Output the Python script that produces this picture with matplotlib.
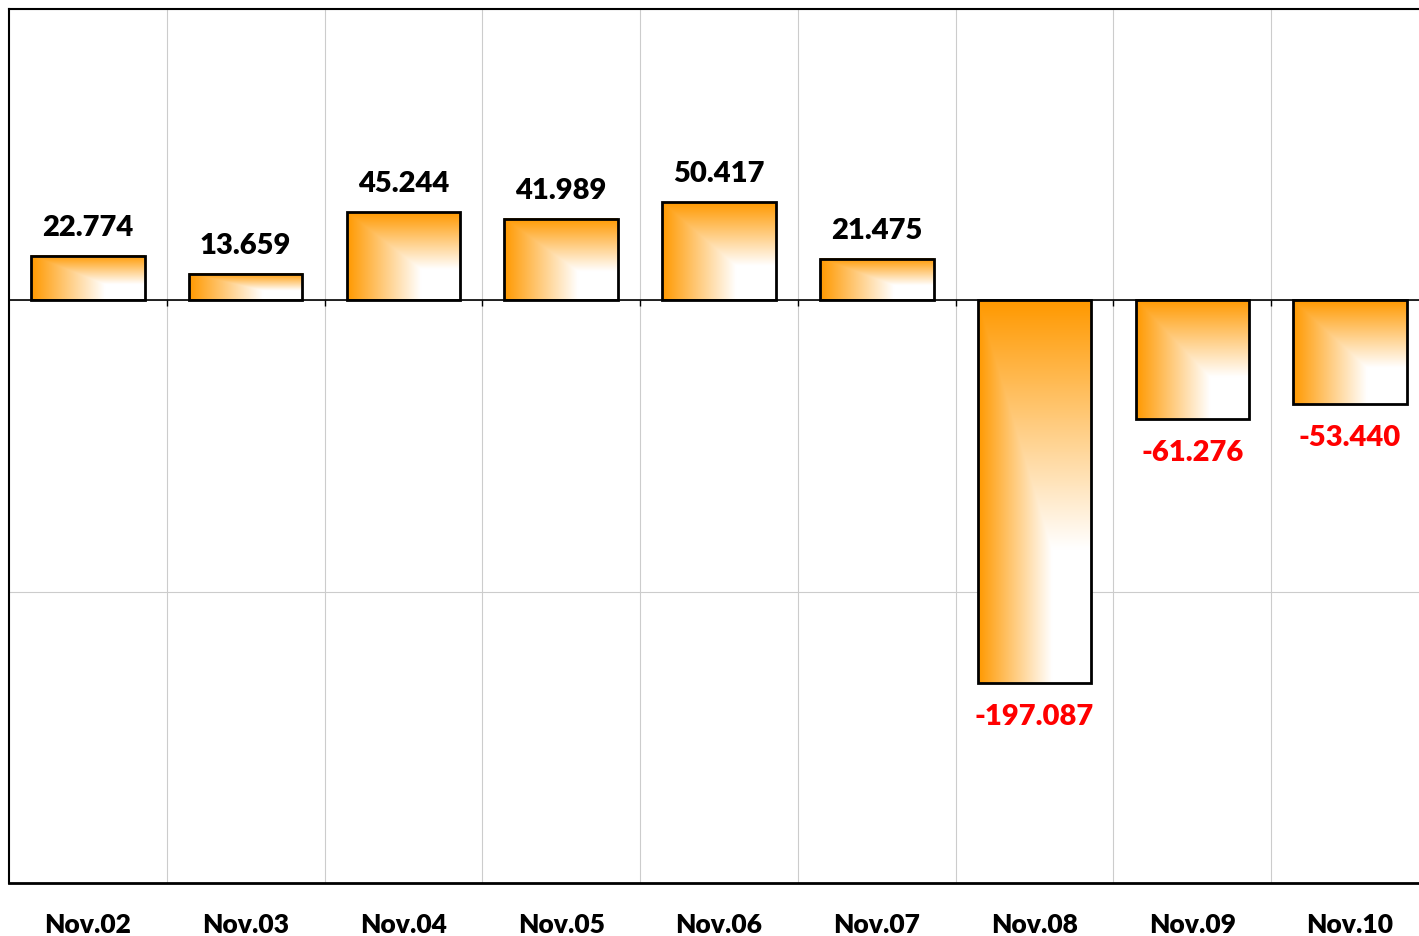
import numpy as np
import matplotlib
matplotlib.use("Agg")
import matplotlib.pyplot as plt
from matplotlib.patches import Rectangle

# data
days = ["Nov.02", "Nov.03", "Nov.04", "Nov.05", "Nov.06", "Nov.07", "Nov.08", "Nov.09", "Nov.10"]
values = [22.774, 13.659, 45.244, 41.989, 50.417, 21.475, -197.087, -61.276, -53.440]

orange = np.array([1.0, 0.60, 0.0])
white = np.array([1.0, 1.0, 1.0])

plt.rcParams['font.family'] = ['Lato', 'DejaVu Sans']

fig = plt.figure(figsize=(14.19, 9.37), dpi=100)
ax = fig.add_axes([9/1419, 53/937, 1420/1419, 874/937])

x = np.arange(len(days))
w = 0.72

# corner gradient: orange along top and left edges, white toward bottom-right
n = 200
xf = np.linspace(0, 1, n)[None, :]
yf = np.linspace(0, 1, n)[:, None]
t = np.clip(np.minimum(xf, yf) / 0.65, 0, 1)
grad = orange[None, None, :] * (1 - t[..., None]) + white[None, None, :] * t[..., None]

for xi, v in zip(x, values):
    y0, y1 = min(0, v), max(0, v)
    ax.imshow(grad, extent=(xi - w/2, xi + w/2, y0, y1), origin='upper',
              aspect='auto', zorder=2, interpolation='bilinear')
    ax.add_patch(Rectangle((xi - w/2, y0), w, y1 - y0, fill=False,
                           edgecolor='black', linewidth=2, zorder=3))
    if v >= 0:
        ax.annotate(f"{v:.3f}", (xi, v), xytext=(0, 11.5), textcoords='offset points',
                    ha='center', va='bottom', fontsize=21, fontweight='heavy', color='black')
    else:
        ax.annotate(f"{v:.3f}", (xi, v), xytext=(0, -14.5), textcoords='offset points',
                    ha='center', va='top', fontsize=21, fontweight='heavy', color='#ff0000')

# zero line with small ticks at category boundaries
ax.axhline(0, color='black', linewidth=1.2, zorder=4)
ax.vlines(x[:-1] + 0.5, -3, 0, color='black', linewidth=1, zorder=4)

ax.set_xlim(-0.5, len(days) - 0.5)
ax.set_ylim(-300, 150)
ax.set_xticks(x)
ax.set_xticklabels(days, fontsize=19, fontweight='heavy')
ax.set_xticks(x[:-1] + 0.5, minor=True)
ax.set_yticks([-300, -150, 0, 150])
ax.set_yticklabels([])
ax.tick_params(axis='both', which='both', length=0)
ax.tick_params(axis='x', pad=21)
ax.grid(True, which='minor', axis='x', color='#cccccc', linewidth=0.8, zorder=0)
ax.grid(True, which='major', axis='y', color='#cccccc', linewidth=0.8, zorder=0)
ax.set_axisbelow(True)

for s in ['top', 'left']:
    ax.spines[s].set_linewidth(1.5)
ax.spines['bottom'].set_linewidth(2)
ax.spines['right'].set_visible(False)

fig.savefig("out.png", dpi=100)
